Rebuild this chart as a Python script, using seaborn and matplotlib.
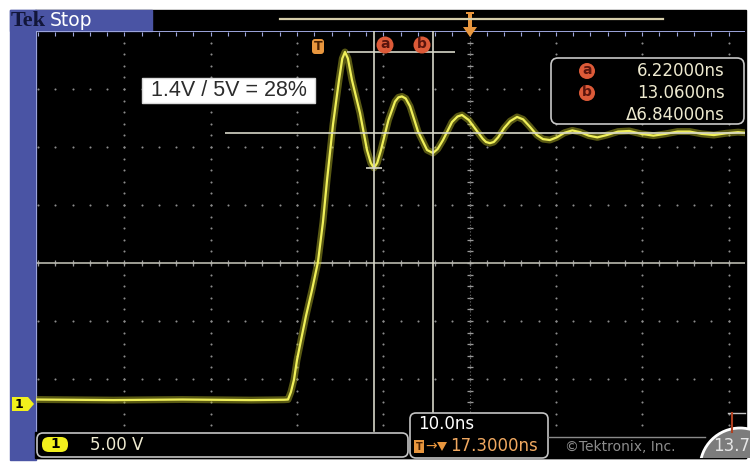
import matplotlib
matplotlib.use("Agg")
import matplotlib.pyplot as plt
import seaborn as sns
import pandas as pd
from matplotlib.patches import Rectangle, FancyBboxPatch, Circle, Polygon

# ---------------- data ----------------
time_ns = [-32.9, -24.0, -16.0, -8.0, -4.2, -3.74, -3.40, -3.05, -2.70, -2.24, -1.66, -0.96,
           -0.27, 0.31, 0.78, 1.47, 2.17, 2.55, 2.86, 3.2, 3.67, 4.6, 5.41, 5.85, 6.22, 6.6,
           7.03, 7.9, 8.66, 9.05, 9.47, 9.9, 10.4, 11.32, 12.37, 13.06, 13.6, 14.22, 15.26,
           15.9, 16.42, 17.2, 18.0, 18.8, 19.2, 19.66, 20.1, 20.6, 21.3, 22.0, 22.8, 23.5, 24.3,
           25.1, 25.8, 26.6, 27.4, 28.3, 29.2, 30.1, 31.1, 32.1, 33.2, 34.5, 35.8, 37.2, 38.6,
           40.0, 41.4, 42.8, 44.2, 45.6, 47.0, 48.4, 49.2]
volts = [0.3, 0.25, 0.3, 0.25, 0.28, 0.3, 0.95, 2.0, 3.7, 5.4, 7.5, 9.74,
         12.16, 15.6, 19.2, 24.0, 27.84, 29.7, 30.26, 29.7, 27.84, 25.0, 21.81, 20.7, 20.26, 20.7,
         21.81, 24.4, 25.99, 26.35, 26.43, 26.25, 25.57, 23.41, 21.81, 21.55, 21.9, 22.67, 24.22,
         24.7, 24.83, 24.4, 23.6, 22.8, 22.5, 22.4, 22.5, 22.9, 23.7, 24.3, 24.66, 24.45, 23.8,
         23.1, 22.75, 22.67, 22.9, 23.3, 23.5, 23.35, 23.05, 22.9, 23.1, 23.4, 23.45, 23.2, 23.05,
         23.2, 23.4, 23.4, 23.2, 23.1, 23.25, 23.35, 23.3]

cursor_times_ns = [6.22, 13.06]
peak_v = 30.26
trough_v = 20.26
settle_v = 23.28
trig_level_v = 12.07
center_time_ns = 17.3
time_per_div = 10.0
volt_per_div = 5.0

cursor_labels = ["a", "b"]
readout_values = ["6.22000ns", "13.0600ns", "\u03946.84000ns"]
ratio_label = "1.4V / 5V = 28%"
ch_label = "1"
ch_scale_label = "5.00 V"
time_scale_label = "10.0ns"
trig_pos_label = "17.3000ns"
brand_label = "Tek"
state_label = "Stop"

# ---------------- figure ----------------
plt.rcParams['font.family'] = ['DejaVu Sans']
W, H = 750, 469
fig = plt.figure(figsize=(7.5, 4.69), dpi=100)
fig.patch.set_facecolor('white')

BLUE = '#4a54a4'
FRAME = '#9ea6dc'
GRID = '#8c8c8c'
CURS = '#d6d6c8'
ORANGE = '#e8963e'
RED = '#dc5a38'
TXT = '#eeead0'

bg = fig.add_axes([0, 0, 1, 1])
bg.set_xlim(0, W); bg.set_ylim(H, 0); bg.axis('off')
bg.add_patch(Rectangle((35, 10), 711, 448, color='black'))
bg.add_patch(Rectangle((10, 10), 26, 450, color=BLUE))
bg.add_patch(Rectangle((10, 10), 142, 21, color=BLUE))
bg.text(11, 21, brand_label, family='Liberation Serif', fontsize=16, fontweight='bold',
        color='#12163a', ha='left', va='center')
bg.text(50, 20, state_label, fontsize=13.5, color='white', ha='left', va='center')


def px2fig(x0, y0, x1, y1):
    return [x0 / W, 1 - y1 / H, (x1 - x0) / W, (y1 - y0) / H]


# ---------------- graticule / trace axes ----------------
ax = fig.add_axes(px2fig(36, 31, 745, 432))
ax.set_facecolor('none')
XMIN, XMAX = -32.94, 49.21
YMIN, YMAX = -2.5, 32.07

# dotted graticule
vlines_t = [center_time_ns + time_per_div * k for k in range(-4, 4)]
hlines_v = [trig_level_v + volt_per_div * k for k in range(-2, 4)]
for t in vlines_t:
    vs = [trig_level_v + j for j in range(-14, 21)]
    vs = [v for v in vs if YMIN < v < YMAX]
    ax.plot([t] * len(vs), vs, ls='none', marker='o', ms=1.5, mec='none', color=GRID, zorder=1)
for v in hlines_v:
    ts = [center_time_ns + 2 * j for j in range(-25, 17)]
    ts = [t for t in ts if XMIN < t < XMAX]
    ax.plot(ts, [v] * len(ts), ls='none', marker='o', ms=1.5, mec='none', color=GRID, zorder=1)

# centre cross ticks
vs = [trig_level_v + j for j in range(-14, 21) if YMIN < trig_level_v + j < YMAX]
ax.plot([center_time_ns] * len(vs), vs, ls='none', marker='_', ms=5, mew=0.9, color='#9a9a9a', zorder=1)
ts = [center_time_ns + 2 * j for j in range(-25, 17) if XMIN < center_time_ns + 2 * j < XMAX]
ax.plot(ts, [trig_level_v] * len(ts), ls='none', marker='|', ms=5, mew=0.9, color='#9a9a9a', zorder=1)
ax.plot([center_time_ns, center_time_ns], [YMIN, YMAX], color='#6a6a6a', lw=0.8, ls=(0, (1, 2)), zorder=1)
# trigger level line
ax.axhline(trig_level_v, color='#b8b8ae', lw=1.2, zorder=2)

# frame top/left with ticks
ax.axvline(XMIN, color=FRAME, lw=1.4, zorder=3)
ax.axhline(YMAX, color=FRAME, lw=1.4, zorder=3)
ts_top = [center_time_ns + 2 * j for j in range(-25, 17) if XMIN < center_time_ns + 2 * j < XMAX]
ax.plot(ts_top, [YMAX - 0.25] * len(ts_top), ls='none', marker='|', ms=3, mew=0.8, color=FRAME, zorder=3)

# trace (glow + core)
df = pd.DataFrame({'t': time_ns, 'v': volts})
sns.lineplot(data=df, x='t', y='v', ax=ax, sort=False, estimator=None, color='#c6c62c',
             lw=5.0, alpha=0.45, legend=False, zorder=4)
sns.lineplot(data=df, x='t', y='v', ax=ax, sort=False, estimator=None, color='#f0f05a',
             lw=1.6, legend=False, zorder=5)

# cursors
for tc in cursor_times_ns:
    ax.axvline(tc, color=CURS, lw=1.2, zorder=6)
ax.hlines(settle_v, -11.04, XMAX, color=CURS, lw=1.2, zorder=6)
ax.hlines(peak_v, 3.1, 15.6, color=CURS, lw=1.2, zorder=6)
ax.hlines(trough_v, 5.3, 7.2, color=CURS, lw=1.2, zorder=6)

ax.set_xlim(XMIN, XMAX)
ax.set_ylim(YMIN, YMAX)
ax.set_axis_off()

# ---------------- overlay (labels, boxes, status bar) ----------------
ov = fig.add_axes([0, 0, 1, 1])
ov.set_xlim(0, W); ov.set_ylim(H, 0); ov.axis('off')
ov.patch.set_alpha(0)

# top bar: horizontal position bar and trigger-position marker
ov.plot([280, 663], [19, 19], color='#d6ceaa', lw=1.6)
ov.add_patch(Polygon([(466, 12), (474, 12), (474, 14), (472, 14), (472, 27), (477, 27),
                      (470, 37), (463, 27), (468, 27), (468, 14), (466, 14)],
                     closed=True, fc=ORANGE, ec='none'))

# cursor labels at top
ov.add_patch(FancyBboxPatch((312, 39), 12, 15, boxstyle='round,pad=0,rounding_size=3',
                            fc=ORANGE, ec='none'))
ov.text(318, 46.5, 'T', fontsize=9, fontweight='bold', color='#4a2000', ha='center', va='center')
for xc, lab in zip([385, 422], cursor_labels):
    ov.add_patch(Circle((xc, 45), 8.5, fc=RED, ec='none'))
    ov.text(xc, 44.5, lab, fontsize=10, fontweight='bold', color='#5a140c', ha='center', va='center')

# ratio annotation
ov.add_patch(Rectangle((142, 78), 173, 25, fc='white', ec='#d8d8d8', lw=1))
ov.text(228.5, 91, ratio_label, family='Liberation Sans', fontsize=15.5, color='#2c2c2c',
        ha='center', va='center')

# readout box
ov.add_patch(FancyBboxPatch((551, 58), 193, 66, boxstyle='round,pad=0,rounding_size=7',
                            fc='black', ec='#c8c8c8', lw=1.2))
for yy, lab in zip([71, 93], cursor_labels):
    ov.add_patch(Circle((587, yy), 8, fc=RED, ec='none'))
    ov.text(587, yy - 0.5, lab, fontsize=10, fontweight='bold', color='#5a140c', ha='center', va='center')
for yy, txt in zip([71, 93, 115], readout_values):
    ov.text(725, yy, txt, fontsize=12, color=TXT, ha='right', va='center')

# channel ground marker
ov.add_patch(Polygon([(12, 397), (28, 397), (34, 404), (28, 411), (12, 411)],
                     closed=True, fc='#f2f01c', ec='none'))
ov.text(19, 404, ch_label, fontsize=9, fontweight='bold', color='black', ha='center', va='center')

# status bar
ov.add_patch(Rectangle((35, 432), 711, 26, color='black'))
ov.add_patch(FancyBboxPatch((37, 433), 371, 24, boxstyle='round,pad=0,rounding_size=6',
                            fc='black', ec='#c4c4c4', lw=1.2))
ov.add_patch(FancyBboxPatch((42, 437), 26, 15, boxstyle='round,pad=0,rounding_size=7',
                            fc='#f2f01c', ec='none'))
ov.text(55, 444.5, ch_label, fontsize=10, fontweight='bold', color='black', ha='center', va='center')
ov.text(90, 445, ch_scale_label, fontsize=12, color=TXT, ha='left', va='center')

ov.add_patch(FancyBboxPatch((410, 413), 138, 45, boxstyle='round,pad=0,rounding_size=6',
                            fc='black', ec='#c4c4c4', lw=1.2))
ov.plot([548, 705], [437, 437], color='#8a8a8a', lw=1)
ov.text(418, 424, time_scale_label, fontsize=12, color='white', ha='left', va='center')
ov.add_patch(Rectangle((414, 440), 10, 13, fc=ORANGE, ec='none'))
ov.text(419, 446.5, 'T', fontsize=7, fontweight='bold', color='#4a2000', ha='center', va='center')
ov.text(431, 446, '\u2192', fontsize=10, color=ORANGE, ha='center', va='center')
ov.add_patch(Polygon([(437, 442), (447, 442), (442, 451)], closed=True, fc=ORANGE, ec='none'))
ov.text(450, 446, trig_pos_label, fontsize=12, color='#f0a860', ha='left', va='center')
ov.text(565, 447, '\u00a9Tektronix, Inc.', fontsize=10, color='#8c8c8c', ha='left', va='center')

# right-edge reference marker
ov.plot([728, 745], [413, 413], color='#c4c4c4', lw=1)
ov.plot([732, 732], [413, 432], color='#b04020', lw=1.5)

# bottom-right watermark disc
clip = Rectangle((0, 0), 750, 458, transform=ov.transData)
disc = Circle((740, 468), 40, fc='#7c7c7c', ec='white', lw=2)
ov.add_patch(disc)
disc.set_clip_path(clip)
ov.text(713, 446, '13.7', fontsize=12, color='#e6e6e6', ha='left', va='center', clip_on=True)

fig.savefig('out.png', dpi=100, facecolor='white')
